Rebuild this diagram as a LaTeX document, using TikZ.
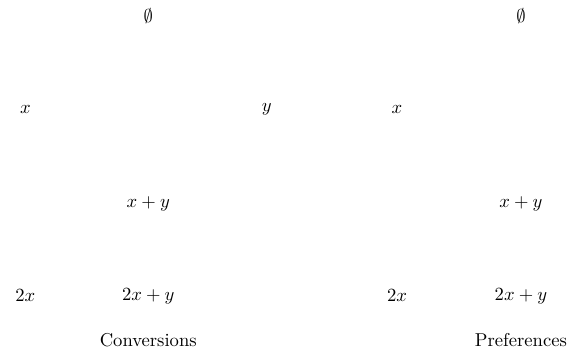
\documentclass[tikz,border=0pt]{standalone}
\usepackage{amsmath,amssymb}
\usepackage{tikz}
\usetikzlibrary{positioning}
\begin{document}
\begin{tikzpicture}[st/.style={inner sep=1pt},ttl/.style={font=\normalsize}]
\useasboundingbox (0,0) rectangle (10.88,-6.84);
% conversions
\node[st] (c0) at (2.80,-0.31) {$\emptyset$};
\node[st] (cx) at (0.48,-2.07) {$x$};
\node[st] (cy) at (5.04,-2.07) {$y$};
\node[st] (cxy) at (2.80,-3.86) {$x+y$};
\node[st] (c2x) at (0.48,-5.59) {$2x$};
\node[st] (c2xy) at (2.80,-5.59) {$2x+y$};
\node[ttl] (ct) at (2.80,-6.42) {Conversions};
% preferences
\node[st] (p0) at (9.84,-0.31) {$\emptyset$};
\node[st] (px) at (7.50,-2.07) {$x$};
\node[st] (pxy) at (9.84,-3.86) {$x+y$};
\node[st] (p2x) at (7.50,-5.59) {$2x$};
\node[st] (p2xy) at (9.84,-5.59) {$2x+y$};
\node[ttl] (pt) at (9.84,-6.42) {Preferences};
\end{tikzpicture}
\end{document}
